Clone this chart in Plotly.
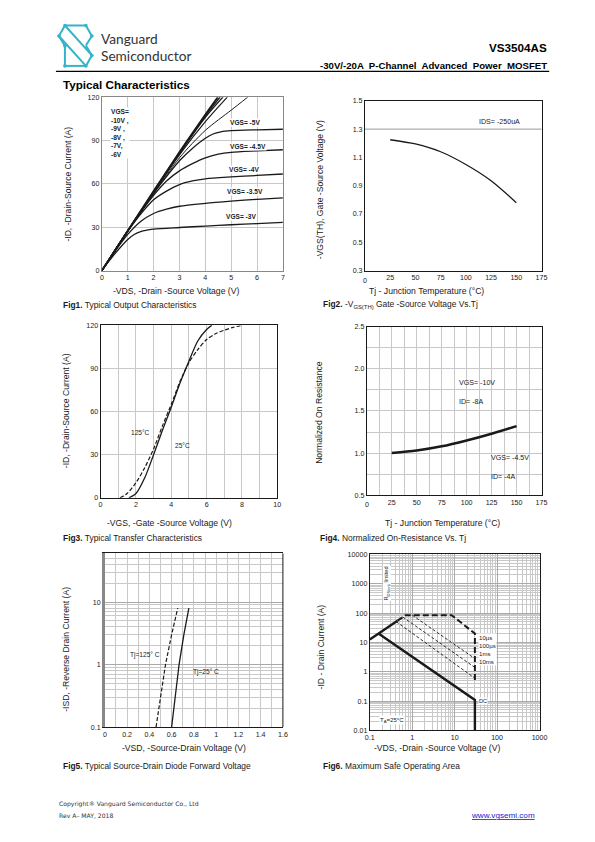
import plotly.graph_objects as go

# The figure is sized to sit inside the 595x842 window (the html body keeps an
# 8px margin); page positions are mapped to figure fractions with the measured
# placement of the figure in the photographed page.
PAGE_W, PAGE_H = 595, 842
W, H = 579, 824
X0, SX = 13.0, 0.979
Y0, SY = 12.0, 0.992
FS = 1.015  # font size compensation
ARIAL = "Liberation Sans, Arial, sans-serif"
NARROW = "Liberation Sans Narrow, Arial Narrow, Liberation Sans, sans-serif"
INK = "#1a1a1a"
GRID = "#c8c8c8"
TEAL = "#35b3c8"

def px(x):
    return (x - X0) / SX / W

def py(y):
    return 1 - (y - Y0) / SY / H

# ---------------- data ----------------
# Fig1 output characteristics (-VDS V, -ID A)
f1_vds_10 = [0, 1, 2, 3, 4, 4.48]
f1_id_10 = [0, 27.5, 55, 82, 108, 120]
f1_vds_9 = [0, 1, 2, 3, 4, 4.57]
f1_id_9 = [0, 27.5, 54.5, 81.5, 107, 120]
f1_vds_8 = [0, 1, 2, 3, 4, 4.68]
f1_id_8 = [0, 27.5, 54.5, 81, 106, 120]
f1_vds_7 = [0, 1, 2, 3, 4, 4.85]
f1_id_7 = [0, 27.5, 54, 80, 103, 120]
f1_vds_6 = [0, 1, 2, 3, 4, 5, 5.64]
f1_id_6 = [0, 27, 53, 78, 97, 111, 120]
f1_vds_5 = [0, 1, 2, 2.5, 3, 3.5, 4, 4.3, 4.6, 5, 6, 7]
f1_id_5 = [0, 27.5, 53.5, 65, 76, 84.5, 91.5, 94.5, 96, 96.8, 97.4, 97.8]
f1_vds_45 = [0, 1, 2, 2.5, 3, 3.5, 4, 4.5, 5, 6, 7]
f1_id_45 = [0, 27.5, 52, 62, 69, 74, 78, 80.5, 81.8, 82.8, 83.6]
f1_vds_4 = [0, 0.5, 1, 1.5, 2, 2.5, 3, 3.5, 4, 5, 6, 7]
f1_id_4 = [0, 13.5, 27, 39, 49, 55, 59.5, 62, 63.5, 64.8, 65.8, 66.8]
f1_vds_35 = [0, 0.5, 1, 1.5, 2, 2.5, 3, 4, 5, 6, 7]
f1_id_35 = [0, 13, 25, 34, 39.5, 42.5, 44.5, 46.5, 48, 49.3, 50.3]
f1_vds_3 = [0, 0.5, 1, 1.25, 1.5, 2, 3, 4, 5, 6, 7]
f1_id_3 = [0, 11.5, 21.5, 25, 27, 28.6, 29.8, 30.8, 31.7, 32.5, 33.3]

# Fig2 threshold voltage vs Tj
f2_tj = [25, 50, 75, 100, 125, 150]
f2_vth = [1.225, 1.195, 1.14, 1.05, 0.935, 0.78]

# Fig3 transfer characteristics
f3_vgs_25 = [1.6, 2, 2.5, 3, 3.5, 4, 4.5, 5, 5.5, 6, 6.3]
f3_id_25 = [0, 3, 14, 30, 47, 63, 80, 95, 109, 117, 120]
f3_vgs_125 = [1.1, 1.5, 2, 2.5, 3, 3.5, 4, 4.5, 5, 5.5, 6, 6.5, 7, 7.5, 8]
f3_id_125 = [0, 3, 10.5, 21, 34, 50, 65, 81, 94, 103, 110, 114, 116.5, 118.5, 119.8]

# Fig4 normalized on-resistance
f4_tj = [25, 50, 75, 100, 125, 150]
f4_rn = [1.0, 1.03, 1.08, 1.15, 1.23, 1.32]

# Fig5 body diode forward voltage
f5_vsd_25 = [0.6, 0.635, 0.667, 0.71, 0.755]
f5_isd_25 = [0.1, 0.3, 1, 3, 8]
f5_vsd_125 = [0.46, 0.5, 0.545, 0.6, 0.655]
f5_isd_125 = [0.1, 0.3, 1, 3, 8]

# Fig6 safe operating area
f6_rds_v = [0.1, 0.45]
f6_rds_i = [12.5, 55]
f6_dc_v = [0.16, 30, 30]
f6_dc_i = [20, 0.11, 0.01]
f6_10us_v = [0.45, 0.7, 8.5, 30, 30]
f6_10us_i = [55, 85, 85, 20, 0.5]
f6_100us_v = [1.0, 30]
f6_100us_i = [85, 2.8]
f6_1ms_v = [0.6, 30]
f6_1ms_i = [73, 1.4]
f6_10ms_v = [0.42, 30]
f6_10ms_i = [51, 0.6]

tj_ticks = [25, 50, 75, 100, 125, 150, 175]
tj_labels = ["25", "50", "75", "100", "125", "150", "175"]
log_ticks = [0.01, 0.1, 1, 10, 100, 1000, 10000]
log_labels = ["0.01", "0.1", "1", "10", "100", "1000", "10000"]

# ---------------- figure ----------------
fig = go.Figure()

def line(x, y, ax, width=1.3, dash="solid", color=INK, shape="spline"):
    fig.add_trace(go.Scatter(
        x=x, y=y, xaxis="x" + ax, yaxis="y" + ax, mode="lines",
        line=dict(color=color, width=width, dash=dash, shape=shape, smoothing=0.8),
        showlegend=False, hoverinfo="skip"))

for xs, ys, w in [(f1_vds_3, f1_id_3, 1.3), (f1_vds_35, f1_id_35, 1.3),
                  (f1_vds_4, f1_id_4, 1.3), (f1_vds_45, f1_id_45, 1.3),
                  (f1_vds_5, f1_id_5, 1.3), (f1_vds_6, f1_id_6, 1.0),
                  (f1_vds_7, f1_id_7, 1.2), (f1_vds_8, f1_id_8, 1.4),
                  (f1_vds_9, f1_id_9, 1.5), (f1_vds_10, f1_id_10, 1.7)]:
    line(xs, ys, "", width=w)
line(f2_tj, f2_vth, "2", width=1.3)
line(f3_vgs_25, f3_id_25, "3", width=1.3)
line(f3_vgs_125, f3_id_125, "3", width=1.2, dash="4px,2px")
line(f4_tj, f4_rn, "4", width=2.6)
line(f5_vsd_25, f5_isd_25, "5", width=1.3, shape="linear")
line(f5_vsd_125, f5_isd_125, "5", width=1.2, dash="4px,2px", shape="linear")
line(f6_rds_v, f6_rds_i, "6", width=2.4, shape="linear")
line(f6_dc_v, f6_dc_i, "6", width=2.4, shape="linear")
line(f6_10us_v, f6_10us_i, "6", width=2.0, dash="6px,3px", shape="linear")
line(f6_100us_v, f6_100us_i, "6", width=0.9, dash="3px,2px", shape="linear")
line(f6_1ms_v, f6_1ms_i, "6", width=0.9, dash="3px,2px", shape="linear")
line(f6_10ms_v, f6_10ms_i, "6", width=0.9, dash="3px,2px", shape="linear")

TF = dict(family=NARROW, size=7 * FS, color=INK)

def axis(domain, rng, anchor, **kw):
    d = dict(domain=domain, range=rng, anchor=anchor, zeroline=False, ticks="",
             tickfont=TF, showline=True, mirror=True, linecolor=INK, linewidth=1,
             showgrid=True, gridcolor=GRID, gridwidth=1, layer="below traces")
    d.update(kw)
    return d

layout = dict(
    width=W, height=H, margin=dict(l=0, r=0, t=0, b=0),
    paper_bgcolor="white", plot_bgcolor="white", showlegend=False,
    # Fig1
    xaxis=axis([px(102), px(283.3)], [0, 7], "y", dtick=1, tick0=0, linecolor="#888"),
    yaxis=axis([py(271), py(97.3)], [0, 120], "x", dtick=30, tick0=0, linecolor="#888"),
    # Fig2
    xaxis2=axis([px(365.5), px(542.3)], [0, 175], "y2", tickmode="array",
                tickvals=tj_ticks, ticktext=tj_labels, showgrid=False),
    yaxis2=axis([py(271), py(101)], [0.3, 1.5], "x2", dtick=0.2, tick0=0.3, showgrid=False,
                tickformat=".1f"),
    # Fig3
    xaxis3=axis([px(100.7), px(277.7)], [0, 10], "y3", dtick=2, tick0=0,
                minor=dict(dtick=1, showgrid=True, gridcolor=GRID, ticks="")),
    yaxis3=axis([py(498.7), py(325.7)], [0, 120], "x3", dtick=30, tick0=0),
    # Fig4
    xaxis4=axis([px(367.3), px(542.3)], [0, 175], "y4", tickmode="array",
                tickvals=tj_ticks, ticktext=tj_labels,
                minor=dict(tickmode="linear", tick0=0, dtick=12.5, showgrid=True,
                           gridcolor=GRID, ticks="")),
    yaxis4=axis([py(496), py(327.3)], [0.5, 2.5], "x4", dtick=0.5, tick0=0.5, tickformat=".1f",
                minor=dict(dtick=0.25, showgrid=True, gridcolor=GRID, ticks="")),
    # Fig5
    xaxis5=axis([px(105), px(283.3)], [0, 1.6], "y5", dtick=0.2, tick0=0,
                minor=dict(dtick=0.1, showgrid=True, gridcolor=GRID, ticks=""),
                tickformat="~g"),
    yaxis5=axis([py(728.3), py(554.3)], [-1, 1.778], "x5", type="log",
                tickvals=log_ticks[1:4], ticktext=log_labels[1:4], gridcolor="#aaa",
                minor=dict(tickmode="linear", dtick="D1", showgrid=True, gridcolor=GRID, ticks=""),
                mirror=False, linecolor="#888", linewidth=2.5),
    # Fig6
    xaxis6=axis([px(370.3), px(540.3)], [-1, 3], "y6", type="log",
                tickvals=log_ticks[1:], ticktext=log_labels[1:], gridcolor="#aaa",
                minor=dict(tickmode="linear", dtick="D1", showgrid=True, gridcolor=GRID, ticks="")),
    yaxis6=axis([py(731.7), py(555.3)], [-2, 4], "x6", type="log",
                tickvals=log_ticks, ticktext=log_labels, gridcolor="#aaa",
                minor=dict(tickmode="linear", dtick="D1", showgrid=True, gridcolor=GRID, ticks="")),
)
fig.update_layout(**layout)

shapes = []
shapes.append(dict(type="line", xref="x2 domain", yref="y2", x0=0, x1=1, y0=1.3, y1=1.3,
                   line=dict(color="#999", width=1), layer="below"))
shapes.append(dict(type="line", xref="x5 domain", yref="y5 domain", x0=1, x1=1, y0=0, y1=1,
                   line=dict(color=INK, width=1)))
shapes.append(dict(type="line", xref="paper", yref="paper", x0=px(56), x1=px(550),
                   y0=py(71.5), y1=py(71.5), line=dict(color="black", width=1.3)))

# logo
P = {"A": (65, 25.5), "B": (86, 25.5), "C": (92, 36), "D": (59, 36), "E": (65, 46),
     "F": (65, 66), "G": (86, 66), "H": (92, 55.5), "I": (86, 45.5)}
for a, b in [("A", "B"), ("B", "C"), ("A", "D"), ("D", "E"), ("F", "G"), ("G", "H"),
             ("H", "I"), ("A", "H"), ("D", "G"), ("C", "I"), ("E", "F")]:
    (x0, y0), (x1, y1) = P[a], P[b]
    shapes.append(dict(type="line", xref="paper", yref="paper", x0=px(x0), y0=py(y0),
                       x1=px(x1), y1=py(y1), line=dict(color=TEAL, width=2)))
for k in ["A", "B", "D", "E", "F", "G", "H", "C"]:
    x, y = P[k]
    shapes.append(dict(type="circle", xref="paper", yref="paper", x0=px(x - 1.8), x1=px(x + 1.8),
                       y0=py(y + 1.8), y1=py(y - 1.8), fillcolor=TEAL, line=dict(width=0)))
fig.update_layout(shapes=shapes)

anns = []

def ann(text, x, y, size=8.5, family=ARIAL, xanchor="left", yanchor="middle", color=INK,
        angle=0, bg=None, align="left"):
    d = dict(text=text, x=px(x), y=py(y), xref="paper", yref="paper", showarrow=False,
             xanchor=xanchor, yanchor=yanchor,
             font=dict(family=family, size=size * FS, color=color), textangle=angle, align=align)
    if bg:
        d["bgcolor"] = bg
        d["borderpad"] = 0
    anns.append(d)

# header
ann("Vanguard", 99, 39, size=13.5, family="Lato, Open Sans, sans-serif", color="#333")
ann("Semiconductor", 99, 56, size=13.5, family="Lato, Open Sans, sans-serif", color="#333")
ann("<b>VS3504AS</b>", 550, 48, size=11.5, xanchor="right", color="black")
ann("<b>-30V/-20A  P-Channel  Advanced  Power  MOSFET</b>", 550, 65.5, size=9.5,
    xanchor="right", color="black")
ann("<b>Typical Characteristics</b>", 61, 85, size=11.5, color="black")

# Fig1 texts
ann("<b>VGS=<br>-10V ,<br>-9V ,<br>-8V ,<br>-7V,<br>-6V</b>", 110, 133, size=6.5, family=NARROW, bg="white")
ann("<b>VGS= -5V</b>", 229, 123, size=6.5, family=NARROW, bg="white")
ann("<b>VGS= -4.5V</b>", 229, 147, size=6.5, family=NARROW, bg="white")
ann("<b>VGS= -4V</b>", 228, 170, size=6.5, family=NARROW, bg="white")
ann("<b>VGS= -3.5V</b>", 226, 192, size=6.5, family=NARROW, bg="white")
ann("<b>VGS= -3V</b>", 225, 217, size=6.5, family=NARROW, bg="white")
ann("-VDS, -Drain -Source Voltage (V)", 176, 291.5, size=8.5, xanchor="center")
ann("-ID, -Drain-Source Current (A)", 68, 184, size=8.5, xanchor="center", angle=-90)
ann("<b>Fig1.</b> Typical Output Characteristics", 61, 305.5, size=8.3)

# Fig2 texts
ann("0", 365.5, 281, size=7, family=NARROW, xanchor="center")
ann("IDS= -250uA", 478, 122, size=7, family=NARROW)
ann("Tj - Junction Temperature (°C)", 427, 291.5, size=8.5, xanchor="center")
ann("-VGS(TH), Gate -Source Voltage (V)", 320, 190, size=8.5, xanchor="center", angle=-90)
ann("<b>Fig2.</b> -V<sub>GS(TH)</sub> Gate -Source Voltage Vs.Tj", 321, 305.5, size=8.3)

# Fig3 texts
ann("125°C", 129, 433.5, size=6.5, family=NARROW)
ann("25°C", 173, 446.5, size=6.5, family=NARROW)
ann("-VGS, -Gate -Source Voltage (V)", 170, 523.5, size=8.5, xanchor="center")
ann("-ID, -Drain-Source Current (A)", 66, 411, size=8.5, xanchor="center", angle=-90)
ann("<b>Fig3.</b> Typical Transfer Characteristics", 61, 538.5, size=8.3)

# Fig4 texts
ann("0", 367.3, 506, size=7, family=NARROW, xanchor="center")
ann("VGS= -10V", 458, 383.5, size=7, family=NARROW)
ann("ID= -8A", 458, 402.5, size=7, family=NARROW)
ann("VGS= -4.5V", 490, 459, size=7, family=NARROW)
ann("ID= -4A", 490, 477.5, size=7, family=NARROW)
ann("Tj - Junction Temperature (°C)", 443, 523.5, size=8.5, xanchor="center")
ann("Normalized On Resistance", 320, 413, size=8.5, xanchor="center", angle=-90)
ann("<b>Fig4.</b> Normalized On-Resistance Vs. Tj", 318, 538.5, size=8.3)

# Fig5 texts
ann("Tj=125° C", 128, 656.5, size=6.5, family=NARROW)
ann("Tj=25° C", 191, 673, size=6.5, family=NARROW)
ann("-VSD, -Source-Drain Voltage (V)", 184, 749.5, size=8.5, xanchor="center")
ann("-ISD, -Reverse Drain Current (A)", 66, 650, size=8.5, xanchor="center", angle=-90)
ann("<b>Fig5.</b> Typical Source-Drain Diode Forward Voltage", 61, 767, size=8.3)

# Fig6 texts
ann("R<sub>DS(on)</sub> limited", 387, 584, size=5.5, family=NARROW, xanchor="center",
    angle=-90, bg="white")
ann("10µs<br>100µs<br>1ms<br>10ms", 479, 650.5, size=6, family=NARROW, bg="white")
ann("DC", 479, 702.5, size=5.5, family=NARROW, bg="white")
ann("T<sub>A</sub>=25°C", 380, 721.5, size=6, family=NARROW, bg="white")
ann("-VDS, -Drain -Source Voltage (V)", 438, 749.5, size=8.5, xanchor="center")
ann("-ID - Drain Current (A)", 321, 648, size=8.5, xanchor="center", angle=-90)
ann("<b>Fig6.</b> Maximum Safe Operating Area", 321, 767, size=8.3)

# footer
ann("Copyright® Vanguard Semiconductor Co., Ltd", 57, 805, size=6,
    family="DejaVu Sans, sans-serif", color="#333")
ann("Rev A– MAY, 2018", 57, 817, size=6, family="DejaVu Sans, sans-serif", color="#333")
ann("<u>www.vgsemi.com</u>", 538, 816.5, size=8, xanchor="right", color="#1a1ad0")

fig.update_layout(annotations=anns)
fig.write_html("out.html")
